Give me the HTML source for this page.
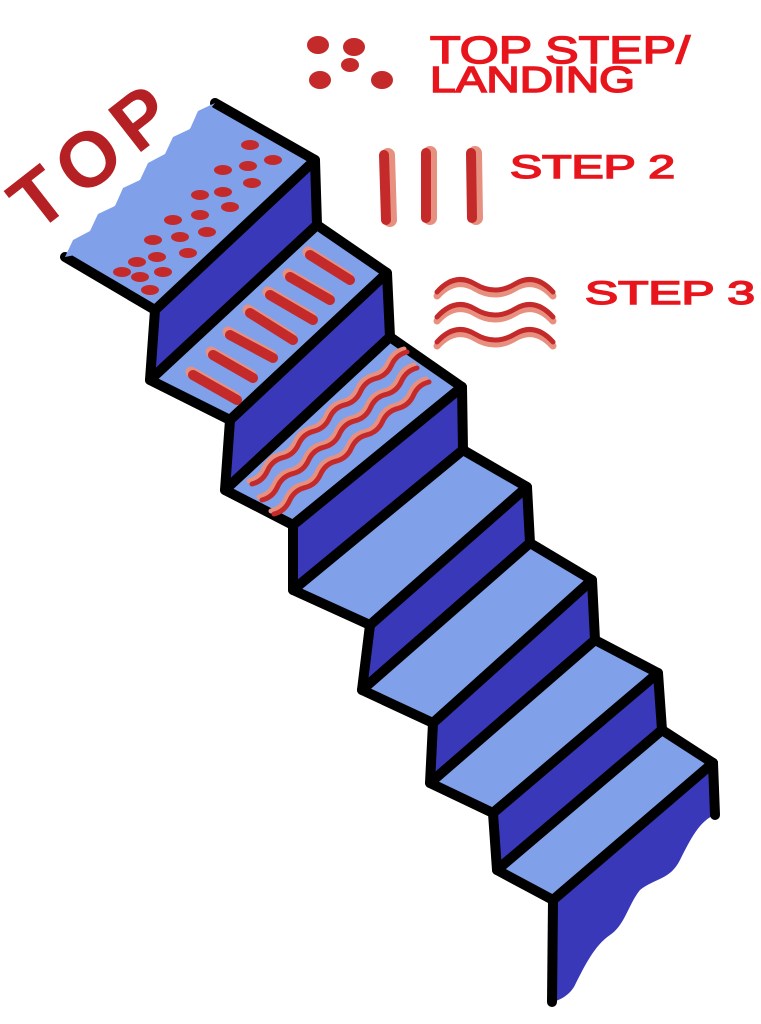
<!DOCTYPE html>
<html><head><meta charset="utf-8"><style>
html,body{margin:0;padding:0;background:#fff;}
svg{display:block;}
</style></head><body>
<svg width="761" height="1024" viewBox="0 0 761 1024" xmlns="http://www.w3.org/2000/svg">
<g stroke="#000" stroke-width="10" stroke-linejoin="round" stroke-linecap="round">
<polygon points="65,257 155,310 315,160 215,103" fill="#80a0ea" stroke="none"/>
<polyline points="65,257 155,310" fill="none"/>
<polyline points="215,103 315,160" fill="none"/>
<polygon points="155,310 315,160 317,225 150,380" fill="#3838b8"/>
<polygon points="150,380 230,420 387,273 317,225" fill="#80a0ea"/>
<polygon points="230,420 387,273 390,337 225,490" fill="#3838b8"/>
<polygon points="225,490 293,525 462,387 390,337" fill="#80a0ea"/>
<polygon points="293,525 462,387 463,450 293,590" fill="#3838b8"/>
<polygon points="293,590 370,625 527,487 463,450" fill="#80a0ea"/>
<polygon points="370,625 527,487 530,543 362,690" fill="#3838b8"/>
<polygon points="362,690 433,723 592,580 530,543" fill="#80a0ea"/>
<polygon points="433,723 592,580 595,640 430,783" fill="#3838b8"/>
<polygon points="430,783 493,813 658,673 595,640" fill="#80a0ea"/>
<polygon points="493,813 658,673 662,730 497,870" fill="#3838b8"/>
<polygon points="497,870 553,900 713,763 662,730" fill="#80a0ea"/>
</g>
<path d="M553,900 L713,763 L715,815 C700,820 690,840 680,860 C670,880 655,878 640,890 C628,905 625,925 610,935 C595,945 585,965 575,985 C570,995 560,1000 553,1002 Z" fill="#3838b8"/>
<g stroke="#000" stroke-width="10" stroke-linecap="round" fill="none">
<polyline points="553,900 713,763"/>
<polyline points="713,763 715,815"/>
<polyline points="553,900 552,1002"/>
</g>
<polygon points="65,257 73,240 90,231 98,214 115,206 123,188 140,180 148,163 165,154 173,137 190,129 198,111 215,103 100,250" fill="#80a0ea"/>
<g fill="#c42a2a">
<ellipse cx="250" cy="145" rx="9" ry="5"/><ellipse cx="273" cy="160" rx="9" ry="5"/>
<ellipse cx="223" cy="170" rx="9" ry="5"/><ellipse cx="248" cy="166" rx="9" ry="5"/>
<ellipse cx="252" cy="183" rx="9" ry="5"/><ellipse cx="200" cy="195" rx="9" ry="5"/>
<ellipse cx="223" cy="192" rx="9" ry="5"/><ellipse cx="230" cy="207" rx="9" ry="5"/>
<ellipse cx="173" cy="220" rx="9" ry="5"/><ellipse cx="200" cy="215" rx="9" ry="5"/>
<ellipse cx="207" cy="232" rx="9" ry="5"/><ellipse cx="153" cy="240" rx="9" ry="5"/>
<ellipse cx="180" cy="237" rx="9" ry="5"/><ellipse cx="188" cy="253" rx="9" ry="5"/>
<ellipse cx="137" cy="262" rx="9" ry="5"/><ellipse cx="157" cy="257" rx="9" ry="5"/>
<ellipse cx="163" cy="272" rx="9" ry="5"/><ellipse cx="122" cy="272" rx="9" ry="5"/>
<ellipse cx="140" cy="277" rx="9" ry="5"/><ellipse cx="150" cy="290" rx="9" ry="5"/>
</g>
<g stroke-linecap="round">
<g stroke="#e89080" stroke-width="11" transform="translate(-2,-3)">
<line x1="310" y1="255" x2="350" y2="280"/><line x1="290" y1="277" x2="330" y2="300"/>
<line x1="270" y1="295" x2="313" y2="320"/><line x1="250" y1="313" x2="293" y2="340"/>
<line x1="230" y1="335" x2="273" y2="358"/><line x1="213" y1="355" x2="253" y2="378"/>
<line x1="193" y1="375" x2="237" y2="400"/>
</g>
<g stroke="#c42a2a" stroke-width="10">
<line x1="310" y1="255" x2="350" y2="280"/><line x1="290" y1="277" x2="330" y2="300"/>
<line x1="270" y1="295" x2="313" y2="320"/><line x1="250" y1="313" x2="293" y2="340"/>
<line x1="230" y1="335" x2="273" y2="358"/><line x1="213" y1="355" x2="253" y2="378"/>
<line x1="193" y1="375" x2="237" y2="400"/>
</g>
</g>
<g fill="none" stroke-linecap="round" stroke-width="5">
<g stroke="#e89080" transform="translate(-3,-3)">
<path d="M252,484 q10.7,-2.6 15.5,-13.2 t15.5,-13.2 t15.5,-13.2 t15.5,-13.2 t15.5,-13.2 t15.5,-13.2 t15.5,-13.2 t15.5,-13.2 t15.5,-13.2 t15.5,-13.2"/>
<path d="M262,500 q10.7,-2.6 15.5,-13.2 t15.5,-13.2 t15.5,-13.2 t15.5,-13.2 t15.5,-13.2 t15.5,-13.2 t15.5,-13.2 t15.5,-13.2 t15.5,-13.2 t15.5,-13.2"/>
<path d="M274,514 q10.7,-2.6 15.5,-13.2 t15.5,-13.2 t15.5,-13.2 t15.5,-13.2 t15.5,-13.2 t15.5,-13.2 t15.5,-13.2 t15.5,-13.2 t15.5,-13.2 t15.5,-13.2"/>
</g>
<g stroke="#c42a2a">
<path d="M252,484 q10.7,-2.6 15.5,-13.2 t15.5,-13.2 t15.5,-13.2 t15.5,-13.2 t15.5,-13.2 t15.5,-13.2 t15.5,-13.2 t15.5,-13.2 t15.5,-13.2 t15.5,-13.2"/>
<path d="M262,500 q10.7,-2.6 15.5,-13.2 t15.5,-13.2 t15.5,-13.2 t15.5,-13.2 t15.5,-13.2 t15.5,-13.2 t15.5,-13.2 t15.5,-13.2 t15.5,-13.2 t15.5,-13.2"/>
<path d="M274,514 q10.7,-2.6 15.5,-13.2 t15.5,-13.2 t15.5,-13.2 t15.5,-13.2 t15.5,-13.2 t15.5,-13.2 t15.5,-13.2 t15.5,-13.2 t15.5,-13.2 t15.5,-13.2"/>
</g>
</g>
<g fill="#c42a2a">
<ellipse cx="318" cy="45" rx="11" ry="9"/><ellipse cx="354" cy="47" rx="11" ry="9"/>
<ellipse cx="320" cy="80" rx="11" ry="9"/><ellipse cx="382" cy="80" rx="11" ry="9"/>
<ellipse cx="350" cy="65" rx="9" ry="7"/>
</g>
<g stroke-linecap="round">
<g stroke="#e89080" stroke-width="14">
<line x1="388" y1="155" x2="390" y2="220"/><line x1="430" y1="153" x2="430" y2="218"/><line x1="475" y1="153" x2="476" y2="218"/>
</g>
<g stroke="#c42a2a" stroke-width="10">
<line x1="384" y1="155" x2="386" y2="220"/><line x1="426" y1="153" x2="426" y2="218"/><line x1="471" y1="153" x2="472" y2="218"/>
</g>
</g>
<g fill="none" stroke-linecap="round" stroke-width="7">
<g stroke="#e89080" transform="translate(0,4)">
<path d="M437,292 Q455,272 475,284 Q495,296 515,284 Q535,272 553,292"/>
<path d="M437,317 Q455,297 475,309 Q495,321 515,309 Q535,297 553,317"/>
<path d="M437,342 Q455,322 475,334 Q495,346 515,334 Q535,322 553,342"/>
</g>
<g stroke="#c42a2a" stroke-width="5">
<path d="M437,292 Q455,272 475,284 Q495,296 515,284 Q535,272 553,292"/>
<path d="M437,317 Q455,297 475,309 Q495,321 515,309 Q535,297 553,317"/>
<path d="M437,342 Q455,322 475,334 Q495,346 515,334 Q535,322 553,342"/>
</g>
</g>
<g font-family="Liberation Sans, sans-serif" fill="#e8151d" stroke="#e8151d" stroke-width="1.5">
<text x="430" y="63" font-size="38" textLength="260" lengthAdjust="spacingAndGlyphs">TOP STEP/</text>
<text x="430" y="92" font-size="36" textLength="205" lengthAdjust="spacingAndGlyphs">LANDING</text>
<text x="510" y="178" font-size="32" textLength="165" lengthAdjust="spacingAndGlyphs">STEP 2</text>
<text x="585" y="304" font-size="32" textLength="170" lengthAdjust="spacingAndGlyphs">STEP 3</text>
</g>
<text transform="translate(36,234) rotate(-38)" font-family="Liberation Sans, sans-serif" font-weight="bold" font-size="78" fill="#b52024" textLength="180" lengthAdjust="spacing">TOP</text>
</svg>
</body></html>
